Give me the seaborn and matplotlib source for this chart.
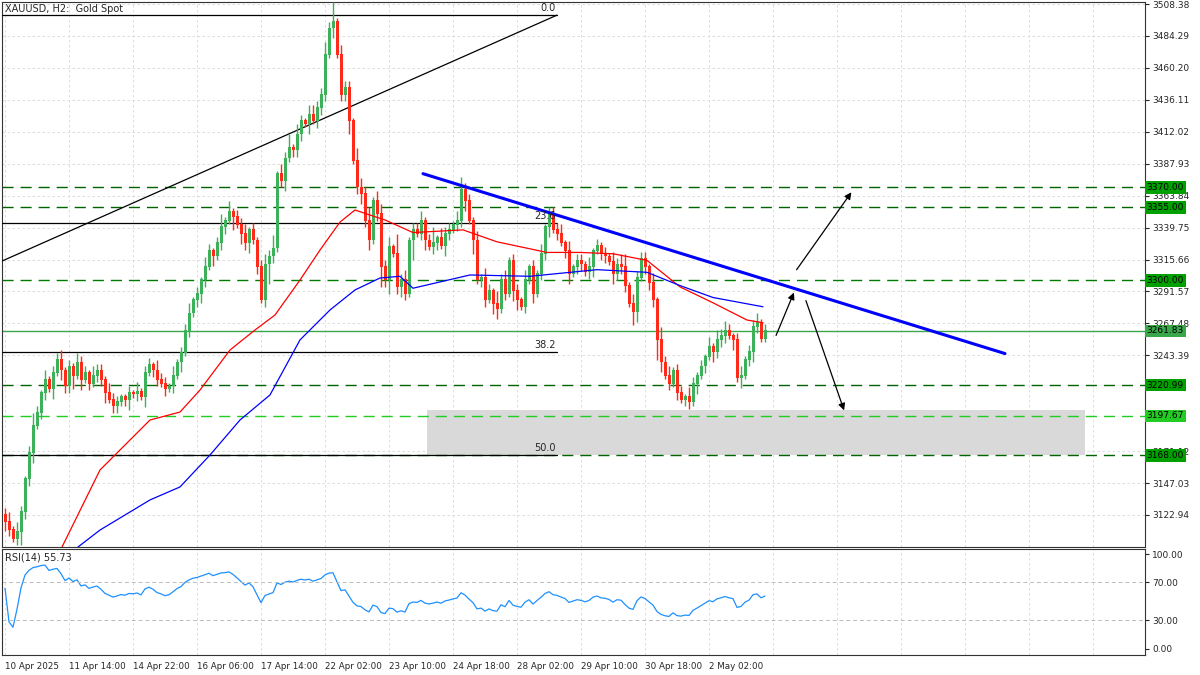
import numpy as np
import pandas as pd
import matplotlib
matplotlib.use("Agg")
import matplotlib.pyplot as plt
import seaborn as sns

closes = [3118,3112,3105,3110,3125,3150,3170,3190,3200,3215,
          3225,3218,3230,3240,3232,3220,3235,3228,3238,3225,
          3230,3222,3228,3232,3225,3215,3210,3205,3208,3212,
          3210,3215,3214,3216,3212,3230,3236,3232,3225,3222,
          3218,3220,3228,3238,3245,3262,3275,3285,3290,3300,
          3310,3322,3318,3328,3340,3345,3352,3348,3342,3335,
          3328,3338,3330,3310,3285,3312,3318,3324,
          3380,3375,3392,3400,3398,3410,3420,3418,3425,3420,3430,3440,3470,3490,3495,3470,
          3440,3445,3420,3390,3370,3365,3345,3330,3360,3350,3310,3300,3325,3320,3295,3300,
          3290,3330,3338,3335,3345,3330,3325,3328,3332,3326,3335,3338,3342,3345,3368,3360,
          3345,3330,3300,3302,3285,3292,3282,3278,3300,3290,3315,3292,3285,3280,3300,3310,
          3290,3305,3320,3340,3350,3338,3335,3328,3322,3305,3310,3315,3312,3306,3310,3322,
          3326,3320,3318,3314,3305,3312,3310,3296,3282,3276,3302,3316,3310,3298,3285,3255,
          3238,3228,3222,3232,3215,3210,3212,3208,3222,3228,3235,3242,3250,3246,3255,3258,
          3262,3258,3255,3226,3228,3240,3246,3265,3268,3256,3262]
up_wick = "2313212421 3122312132 2132213221 1213122132 2131223121 3212413122 3121232413 2413213322 4261322143 2413323162 3122312513 2213422131 3214231221 3121312223 1312213121 2132341322 2131423122 1321213132 3212312231 2"
low_wick = "3212422312 2131322413 1212231221 2312131221 2121312123 2131221413 2312126212 3122213122 2131224123 2312624123 2161231221 3212231412 2133121331 2131223121 2312212312 2132221431 2226312121 2213121322 2131312321 1"

red_ma_x = [62, 100, 150, 180, 200, 230, 255, 275, 300, 320, 340, 355, 370, 385, 413, 463, 497, 547, 580, 613, 647, 680, 713, 747, 763]
red_ma_y = [3098.8, 3156.9, 3194.6, 3200.6, 3217.2, 3247.4, 3262.5, 3273.8, 3300.2, 3322.8, 3343.9, 3353.0, 3349.2, 3345.5,
            3336, 3338, 3329, 3321, 3321, 3320, 3315, 3295, 3283, 3270, 3268]
blue_ma_x = [78, 100, 150, 180, 210, 240, 270, 300, 330, 355, 380, 400, 413, 470, 530, 597, 647, 680, 713, 763]
blue_ma_y = [3098.8, 3111.6, 3134.3, 3144.1, 3168.2, 3194.6, 3213.5, 3255.0, 3277.6, 3292.7, 3301.7, 3303,
             3294, 3304, 3303, 3308, 3306, 3296, 3287, 3280]

tick_prices = [3508.38, 3484.29, 3460.20, 3436.11, 3412.02, 3387.93, 3363.84, 3339.75,
               3315.66, 3291.57, 3267.48, 3243.39, 3171.12, 3147.03, 3122.94]
date_labels = ["10 Apr 2025", "11 Apr 14:00", "14 Apr 22:00", "16 Apr 06:00", "17 Apr 14:00",
               "22 Apr 02:00", "23 Apr 10:00", "24 Apr 18:00", "28 Apr 02:00", "29 Apr 10:00",
               "30 Apr 18:00", "2 May 02:00"]
levels = [3370.00, 3355.00, 3300.00, 3220.99, 3197.67, 3168.00]
level_colors = ["#006400", "#006400", "#007a00", "#006400", "#22cc22", "#006400"]
current_price = 3261.83
fib_levels = [3500.0, 3343.2, 3245.9, 3168.0]
fib_names = ["0.0", "23.6", "38.2", "50.0"]

sns.set_style("white")
plt.rcParams['font.family'] = ['DejaVu Sans']

n = len(closes)
c = np.array(closes, float)
o = np.concatenate([[c[0] + 5], c[:-1]])
uw = np.array([int(ch) for ch in up_wick.replace(" ", "")][:n], float) * 2.5
lw = np.array([int(ch) for ch in low_wick.replace(" ", "")][:n], float) * 2.5
h = np.maximum(o, c) + uw
l = np.minimum(o, c) - lw
idx = np.arange(n)

def px2bar(x):
    return (np.asarray(x, float) - 5) / 4.0

W, H = 1200, 675
fig = plt.figure(figsize=(12, 6.75), dpi=100)
x0, x1 = 2 / W, 1145 / W
ax = fig.add_axes([x0, 1 - 547 / H, x1 - x0, (547 - 2) / H])
axr = fig.add_axes([x0, 1 - 655 / H, x1 - x0, (655 - 549) / H])

ymin, ymax = 3098.8, 3509.9
xmin, xmax = float(px2bar(2)), float(px2bar(1145))
for a in (ax, axr):
    a.set_xlim(xmin, xmax)
    for s in a.spines.values():
        s.set_color("#333333"); s.set_linewidth(0.8)
ax.set_ylim(ymin, ymax)

for t in tick_prices:
    ax.axhline(t, color="#d8d8d8", lw=0.6, ls=(0, (3, 3)), zorder=0)
for k in range(0, 18 * 16, 16):
    ax.axvline(k, color="#d8d8d8", lw=0.6, ls=(0, (3, 3)), zorder=0)
    axr.axvline(k, color="#d8d8d8", lw=0.6, ls=(0, (3, 3)), zorder=0)

ax.fill_between([px2bar(427), px2bar(1085)], 3168, 3202, color="#d9d9d9", zorder=1, lw=0)

for lv, col in zip(levels, level_colors):
    ax.axhline(lv, color=col, lw=1.0, ls=(0, (8, 5)), zorder=2)
ax.axhline(current_price, color="#3aa84a", lw=1.0, zorder=2)

for fv, fn in zip(fib_levels, fib_names):
    ax.plot([xmin, px2bar(557)], [fv, fv], color="black", lw=0.9, zorder=3)
    ax.text(px2bar(556), fv + 1.5, fn, ha="right", va="bottom", fontsize=7, zorder=6)

ax.plot([px2bar(2), px2bar(557)], [3314.5, 3500.0], color="black", lw=0.9, zorder=3)
ax.plot([px2bar(423), px2bar(1005)], [3380.4, 3244.7], color="#0000ff", lw=2.2, zorder=5)

colors = np.where(c >= o, "#3cb15a", "#ff2a1a")
ax.vlines(idx, l, h, colors=colors, lw=1.0, zorder=4)
ax.bar(idx, np.abs(c - o) + 0.6, bottom=np.minimum(o, c), width=0.75, color=colors, zorder=4, lw=0)

sns.lineplot(x=px2bar(red_ma_x), y=red_ma_y, ax=ax, color="#ff0000", lw=0.9, zorder=4)
sns.lineplot(x=px2bar(blue_ma_x), y=blue_ma_y, ax=ax, color="#0000ff", lw=0.9, zorder=4)

def arrow(xa, ya, xb, yb):
    pa = lambda y: 3509.9 - 0.7543 * (y - 2)
    ax.annotate("", xy=(px2bar(xb), pa(yb)), xytext=(px2bar(xa), pa(ya)),
                arrowprops=dict(arrowstyle="-|>", color="black", lw=0.9, mutation_scale=10), zorder=6)
arrow(775, 338, 795, 290)
arrow(795, 272, 853, 190)
arrow(805, 298, 845, 413)

ax.yaxis.tick_right()
ax.set_yticks(tick_prices)
ax.set_yticklabels([f"{t:.2f}" for t in tick_prices], fontsize=6.5)
ax.tick_params(axis="y", length=3, pad=2)
ax.set_xticks([])
ax.text(0.003, 0.997, "XAUUSD, H2:  Gold Spot", transform=ax.transAxes, ha="left", va="top", fontsize=7)

def box(val, fc, tc="black"):
    ax.text(1.0015, val, f"{val:.2f}", transform=ax.get_yaxis_transform(), ha="left", va="center",
            fontsize=6.5, color=tc, bbox=dict(boxstyle="square,pad=0.2", fc=fc, ec="none"), zorder=10, clip_on=False)
for lv, col in zip(levels, level_colors):
    box(lv, "#00a000" if col != "#22cc22" else "#22cc22")
box(current_price, "#3aa84a")

s = pd.Series(c)
d = s.diff().fillna(0)
gain = d.clip(lower=0).ewm(alpha=1 / 14, adjust=True).mean() + 1.6
loss = (-d.clip(upper=0)).ewm(alpha=1 / 14, adjust=True).mean() + 0.9
rsi = 100 - 100 / (1 + gain / loss)
sns.lineplot(x=idx, y=rsi.values, ax=axr, color="#1e90ff", lw=0.9)
for lv in (70, 30):
    axr.axhline(lv, color="#bbbbbb", lw=0.7, ls=(0, (4, 3)))
axr.set_ylim(-6.4, 105.3)
axr.yaxis.tick_right()
axr.set_yticks([100, 70, 30, 0])
axr.set_yticklabels(["100.00", "70.00", "30.00", "0.00"], fontsize=6.5)
axr.tick_params(axis="y", length=3, pad=2)
axr.text(0.003, 0.97, f"RSI(14) {rsi.values[-1]:.2f}", transform=axr.transAxes, ha="left", va="top", fontsize=7)
axr.set_xticks([k * 16 for k in range(len(date_labels))])
axr.set_xticklabels(date_labels, fontsize=6.3, ha="left")
axr.tick_params(axis="x", length=3, pad=2)
axr.set_ylabel(""); ax.set_ylabel("")

fig.savefig("out.png", dpi=100)
